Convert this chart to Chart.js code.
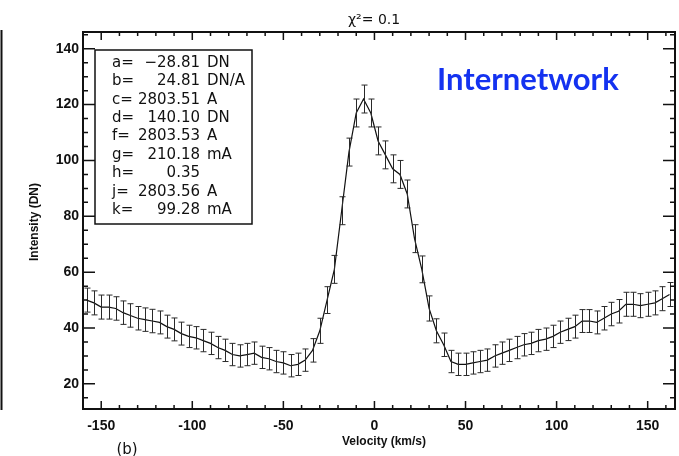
<!DOCTYPE html>
<html>
<head>
<meta charset="utf-8">
<script src="https://cdn.jsdelivr.net/npm/chart.js@4.4.0/dist/chart.umd.min.js"></script>
<style>
  html, body { margin: 0; padding: 0; background: #fff; }
  #wrap { width: 679px; height: 456px; }
</style>
</head>
<body>
<div id="wrap"><canvas id="myChart" width="679" height="456"></canvas></div>
<script>
// velocity grid (km/s) and measured intensity (DN) with 1-sigma errors
const velocity = [-158,-154,-150,-146,-142,-138,-134,-130,-126,-122,-118,-114,-110,-106,-102,-98,-94,-90,-86,-82,-78,-74,-70,-66,-62,-58,-54,-50,-46,-42,-38,-34,-30,-26,-22,-18,-14,-10,-6,-2,2,6,10,14,18,22,26,30,34,38,42,46,50,54,58,62,66,70,74,78,82,86,90,94,98,102,106,110,114,118,122,126,130,134,138,142,146,150,154,158,162];
const intensity = [50,49,47.5,47.5,47,45.5,44.5,43.5,43,42.5,42,40.5,39.5,38,37,36.5,35.5,34.5,33,32,30.5,30,30.5,31,29.5,29,28,27.5,26.5,27,28.5,32,39,50,61,82,103,117,122,117,107,102,97,95,88,72,61,47,39,34,28,27,27,27.5,28,28.5,30,31,32,33,34,34.5,35.5,36,37,38.5,39.5,40.5,42.5,42.5,42,43.5,45,46,48.5,48.5,48,48.5,49,50.5,52];
const errors = [4.3,4.3,4.3,4.3,4.2,4.2,4.2,4.2,4.2,4.2,4.1,4.1,4.1,4.1,4.0,4.0,4.0,4.0,4.0,4.0,4.0,4.0,4.0,4.0,4.0,4.0,4.0,4.0,4.0,4.0,4.0,4.2,4.5,4.8,5.0,5.0,5.0,5.0,5.0,5.0,5.0,5.0,5.0,5.0,5.0,5.0,4.8,4.5,4.3,4.2,4.0,4.0,4.0,4.0,4.0,4.0,4.0,4.0,4.0,4.0,4.0,4.0,4.0,4.0,4.0,4.0,4.0,4.1,4.1,4.1,4.1,4.2,4.2,4.2,4.3,4.3,4.3,4.3,4.3,4.3,4.3];
const xTicks = [-150,-100,-50,0,50,100,150];
const yTicks = [20,40,60,80,100,120,140];
const fitParams = [
  ['a=', '\u221228.81', 'DN'],
  ['b=', '24.81', 'DN/A'],
  ['c=', '2803.51', 'A'],
  ['d=', '140.10', 'DN'],
  ['f=', '2803.53', 'A'],
  ['g=', '210.18', 'mA'],
  ['h=', '0.35', ''],
  ['j=', '2803.56', 'A'],
  ['k=', '99.28', 'mA']
];

const points = velocity.map((v, i) => ({x: v, y: intensity[i]}));

const errorBars = {
  id: 'errorBars',
  afterDatasetsDraw(chart) {
    const ctx = chart.ctx, xs = chart.scales.x, ys = chart.scales.y;
    ctx.save();
    ctx.strokeStyle = '#2a2a2a';
    ctx.lineWidth = 1;
    velocity.forEach((v, i) => {
      const px = Math.round(xs.getPixelForValue(v)) + 0.5;
      const top = ys.getPixelForValue(intensity[i] + errors[i]);
      const bot = ys.getPixelForValue(intensity[i] - errors[i]);
      ctx.beginPath();
      ctx.moveTo(px, top); ctx.lineTo(px, bot);
      ctx.moveTo(px - 3, top); ctx.lineTo(px + 3, top);
      ctx.moveTo(px - 3, bot); ctx.lineTo(px + 3, bot);
      ctx.stroke();
    });
    ctx.restore();
  }
};

const frame = {
  id: 'frame',
  afterDraw(chart) {
    const ctx = chart.ctx, a = chart.chartArea;
    const xs = chart.scales.x, ys = chart.scales.y;
    ctx.save();
    ctx.strokeStyle = '#111';
    // inward ticks on all four sides
    ctx.lineWidth = 1.5;
    ctx.beginPath();
    for (let v = -160; v <= 160; v += 10) {
      const px = xs.getPixelForValue(v);
      if (px < a.left || px > a.right) continue;
      const len = (v % 50 === 0) ? 8 : 4;
      ctx.moveTo(px, a.bottom); ctx.lineTo(px, a.bottom - len);
      ctx.moveTo(px, a.top); ctx.lineTo(px, a.top + len);
    }
    for (let v = 15; v <= 145; v += 5) {
      const py = ys.getPixelForValue(v);
      const len = (v % 20 === 0) ? 12 : 5;
      ctx.moveTo(a.left, py); ctx.lineTo(a.left + len, py);
      ctx.moveTo(a.right, py); ctx.lineTo(a.right - len, py);
    }
    ctx.stroke();
    ctx.lineWidth = 2;
    ctx.strokeRect(a.left, a.top, a.right - a.left, a.bottom - a.top);

    // edge of the neighbouring panel
    ctx.beginPath();
    ctx.moveTo(1.5, 30); ctx.lineTo(1.5, 410);
    ctx.stroke();

    // fit parameter box
    ctx.lineWidth = 1.5;
    ctx.strokeRect(95, 50, 157, 174);
    ctx.fillStyle = '#111';
    ctx.font = '15px "DejaVu Sans"';
    ctx.textBaseline = 'middle';
    fitParams.forEach((row, i) => {
      const y = 63 + i * 18.4;
      ctx.textAlign = 'left';
      ctx.fillText(row[0], 112, y);
      ctx.textAlign = 'right';
      ctx.fillText(row[1], 200, y);
      ctx.textAlign = 'left';
      ctx.fillText(row[2], 207, y);
    });

    // titles
    ctx.font = '14px "DejaVu Sans"';
    ctx.textAlign = 'left';
    ctx.fillText('\u03c7\u00b2= 0.1', 348, 20);

    ctx.font = 'bold 12px "Liberation Sans"';
    ctx.textAlign = 'center';
    ctx.fillText('Velocity (km/s)', 384, 442);
    ctx.save();
    ctx.translate(35, 222);
    ctx.rotate(-Math.PI / 2);
    ctx.fillText('Intensity (DN)', 0, 0);
    ctx.restore();

    ctx.font = '15px "DejaVu Sans"';
    ctx.fillText('(b)', 127, 450);

    ctx.fillStyle = '#1432f0';
    ctx.font = 'bold 31px Lato';
    ctx.textAlign = 'left';
    ctx.textBaseline = 'alphabetic';
    ctx.fillText('Internetwork', 437, 90, 185);
    ctx.restore();
  }
};

new Chart(document.getElementById('myChart'), {
  type: 'line',
  data: {
    datasets: [{
      data: points,
      borderColor: '#111',
      borderWidth: 1.2,
      pointRadius: 0,
      fill: false,
      tension: 0
    }]
  },
  options: {
    responsive: false,
    animation: false,
    layout: { padding: { top: 32, right: 4, left: 0, bottom: 0 } },
    plugins: { legend: { display: false }, tooltip: { enabled: false } },
    scales: {
      x: {
        type: 'linear',
        min: -160,
        max: 165,
        afterFit(scale) { scale.height = 47; },
        afterBuildTicks(scale) { scale.ticks = xTicks.map(v => ({value: v})); },
        grid: { display: false, drawTicks: false },
        border: { display: false },
        ticks: { padding: 9, color: '#111', font: { family: 'Liberation Sans', size: 14, weight: 'bold' }, maxRotation: 0 }
      },
      y: {
        type: 'linear',
        min: 11,
        max: 146,
        afterFit(scale) { scale.width = 83; },
        afterBuildTicks(scale) { scale.ticks = yTicks.map(v => ({value: v})); },
        grid: { display: false, drawTicks: false },
        border: { display: false },
        ticks: { padding: 4, color: '#111', font: { family: 'Liberation Sans', size: 14, weight: 'bold' } }
      }
    }
  },
  plugins: [errorBars, frame]
});
</script>
</body>
</html>
